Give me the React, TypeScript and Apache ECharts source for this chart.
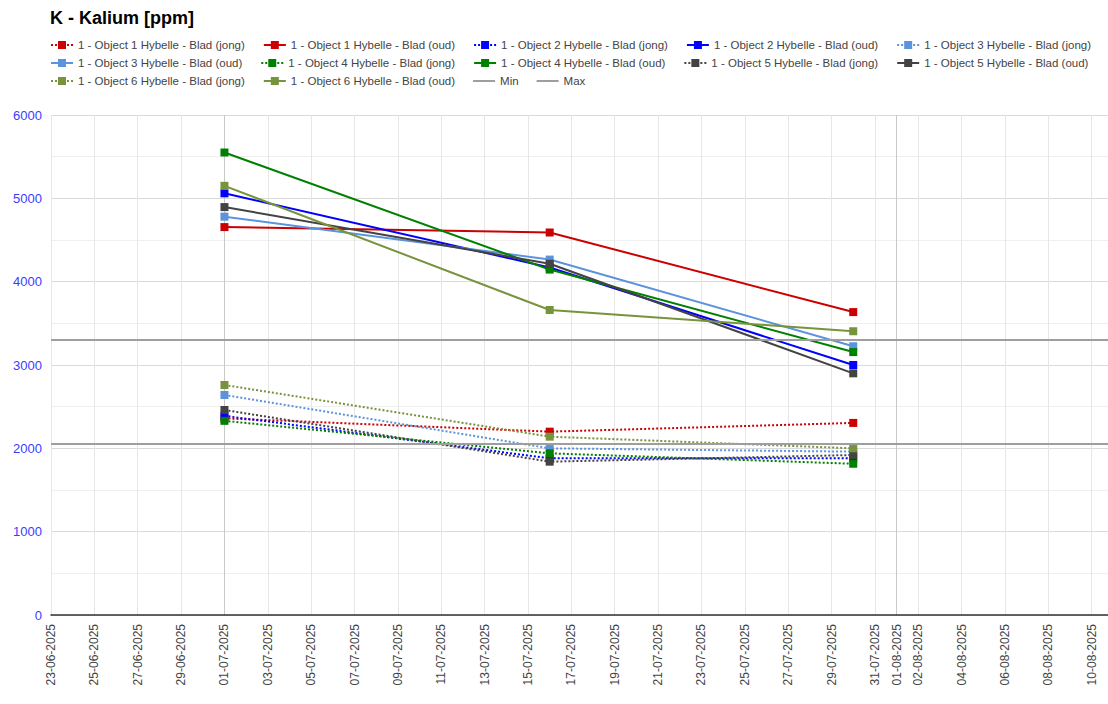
import React, { useEffect, useRef } from "react";
import * as echarts from "echarts";

const TITLE = "K - Kalium [ppm]";
const AXIS_START = "23-06-2025";
const AXIS_END_DAYS = 48.75;
const X_TICK_LABELS = [
  "23-06-2025", "25-06-2025", "27-06-2025", "29-06-2025", "01-07-2025",
  "03-07-2025", "05-07-2025", "07-07-2025", "09-07-2025", "11-07-2025",
  "13-07-2025", "15-07-2025", "17-07-2025", "19-07-2025", "21-07-2025",
  "23-07-2025", "25-07-2025", "27-07-2025", "29-07-2025", "31-07-2025",
  "01-08-2025", "02-08-2025", "04-08-2025", "06-08-2025", "08-08-2025",
  "10-08-2025",
];
const MONTH_LINES = ["01-07-2025", "01-08-2025"];
const SAMPLE_DATES = ["01-07-2025", "16-07-2025", "30-07-2025"];

const SERIES_NAMES = [
  "1 - Object 1 Hybelle - Blad (jong)",
  "1 - Object 1 Hybelle - Blad (oud)",
  "1 - Object 2 Hybelle - Blad (jong)",
  "1 - Object 2 Hybelle - Blad (oud)",
  "1 - Object 3 Hybelle - Blad (jong)",
  "1 - Object 3 Hybelle - Blad (oud)",
  "1 - Object 4 Hybelle - Blad (jong)",
  "1 - Object 4 Hybelle - Blad (oud)",
  "1 - Object 5 Hybelle - Blad (jong)",
  "1 - Object 5 Hybelle - Blad (oud)",
  "1 - Object 6 Hybelle - Blad (jong)",
  "1 - Object 6 Hybelle - Blad (oud)",
];
const SERIES_COLORS = [
  "#cc0000", "#cc0000",
  "#0000ff", "#0000ff",
  "#5b93dc", "#5b93dc",
  "#008000", "#008000",
  "#434343", "#434343",
  "#77933c", "#77933c",
];
const SERIES_DOTTED = [true, false, true, false, true, false, true, false, true, false, true, false];

const obj1Jong = [2360, 2200, 2305];
const obj1Oud = [4655, 4590, 3635];
const obj2Jong = [2390, 1880, 1880];
const obj2Oud = [5060, 4170, 3000];
const obj3Jong = [2640, 2000, 1960];
const obj3Oud = [4780, 4265, 3225];
const obj4Jong = [2330, 1940, 1815];
const obj4Oud = [5550, 4145, 3155];
const obj5Jong = [2460, 1840, 1920];
const obj5Oud = [4895, 4215, 2900];
const obj6Jong = [2760, 2140, 2000];
const obj6Oud = [5150, 3660, 3405];
const SERIES_VALUES = [
  obj1Jong, obj1Oud, obj2Jong, obj2Oud, obj3Jong, obj3Oud,
  obj4Jong, obj4Oud, obj5Jong, obj5Oud, obj6Jong, obj6Oud,
];

const LIMIT_NAMES = ["Min", "Max"];
const LIMIT_VALUES = [2050, 3300];
const LIMIT_COLOR = "#9e9e9e";

const Y_MIN = 0;
const Y_MAX = 6000;
const Y_INTERVAL = 1000;

const DAY = 86400000;
function parseDate(s: string): number {
  const [d, m, y] = s.split("-").map(Number);
  return Date.UTC(y, m - 1, d);
}
const T0 = parseDate(AXIS_START);
function dayOffset(s: string): number {
  return (parseDate(s) - T0) / DAY;
}

export default function App() {
  const ref = useRef<HTMLDivElement>(null);

  useEffect(() => {
    if (!ref.current) return;
    const chart = echarts.init(ref.current, undefined, { renderer: "svg" });

    const tickOffsets = X_TICK_LABELS.map(dayOffset);
    const labelByOffset: Record<string, string> = {};
    X_TICK_LABELS.forEach((l, i) => {
      labelByOffset[String(Math.round(tickOffsets[i]))] = l;
    });
    const monthOffsets = MONTH_LINES.map(dayOffset);
    const sampleOffsets = SAMPLE_DATES.map(dayOffset);

    const font = "'Liberation Sans', Arial, sans-serif";

    const dataSeries = SERIES_NAMES.map((name, i) => ({
      name,
      type: "line",
      xAxisIndex: 0,
      data: sampleOffsets.map((x, j) => [x, SERIES_VALUES[i][j]]),
      symbol: "rect",
      symbolSize: 8,
      showSymbol: true,
      color: SERIES_COLORS[i],
      itemStyle: { color: SERIES_COLORS[i] },
      lineStyle: {
        color: SERIES_COLORS[i],
        width: 2,
        type: SERIES_DOTTED[i] ? [2, 2] : "solid",
      },
      emphasis: { disabled: true },
    }));

    const limitSeries = LIMIT_NAMES.map((name, i) => ({
      name,
      type: "line",
      xAxisIndex: 0,
      data: [],
      symbol: "none",
      color: LIMIT_COLOR,
      lineStyle: { color: LIMIT_COLOR, width: 2 },
      markLine: {
        silent: true,
        symbol: ["none", "none"],
        label: { show: false },
        lineStyle: { color: LIMIT_COLOR, width: 2, type: "solid" },
        emphasis: { disabled: true },
        data: [{ yAxis: LIMIT_VALUES[i] }],
      },
    }));

    const legendCommon = {
      itemWidth: 22,
      itemHeight: 10,
      itemGap: 18,
      padding: 0,
      selectedMode: false,
      textStyle: { fontSize: 11.5, color: "#444", fontFamily: font },
    };
    const lineIcon = "path://M0,0H22V2H0Z";
    const row1 = SERIES_NAMES.slice(0, 5);
    const row2 = SERIES_NAMES.slice(5, 10);
    const row3: any[] = [
      ...SERIES_NAMES.slice(10, 12),
      ...LIMIT_NAMES.map((n) => ({ name: n, icon: lineIcon })),
    ];

    chart.setOption({
      animation: false,
      textStyle: { fontFamily: font },
      title: {
        text: TITLE,
        left: 50,
        top: 9,
        padding: 0,
        textStyle: { fontSize: 18, fontWeight: "bold", color: "#000", fontFamily: font },
      },
      legend: [
        { ...legendCommon, data: row1, left: 50, top: 39 },
        { ...legendCommon, data: row2, left: 50, top: 57 },
        { ...legendCommon, data: row3, left: 50, top: 75 },
      ],
      grid: { left: 51, right: 0, top: 115, bottom: 89, containLabel: false },
      xAxis: [
        {
          type: "value",
          min: 0,
          max: AXIS_END_DAYS,
          axisLine: { show: true, onZero: false, lineStyle: { color: "#333", width: 1.5 } },
          axisTick: { show: false, customValues: tickOffsets },
          axisLabel: {
            customValues: tickOffsets,
            rotate: 90,
            margin: 9,
            fontSize: 12,
            color: "#444",
            fontFamily: font,
            formatter: (v: number) => labelByOffset[String(Math.round(v))] || "",
          },
          splitLine: { show: true, lineStyle: { color: "#e6e6e6", width: 1 } },
        },
        {
          type: "value",
          min: 0,
          max: AXIS_END_DAYS,
          position: "bottom",
          axisLine: { show: false },
          axisTick: { show: false, customValues: monthOffsets },
          axisLabel: { show: false },
          splitLine: { show: true, lineStyle: { color: "#c8c8c8", width: 1 } },
        },
      ],
      yAxis: {
        type: "value",
        min: Y_MIN,
        max: Y_MAX,
        interval: Y_INTERVAL,
        axisLine: { show: false },
        axisTick: { show: false },
        axisLabel: {
          fontSize: 13,
          color: "#3c3cff",
          margin: 9,
          fontFamily: font,
          formatter: (v: number) => String(v),
        },
        splitLine: { show: true, lineStyle: { color: "#dadada", width: 1 } },
        minorTick: { show: false, splitNumber: 2 },
        minorSplitLine: { show: true, lineStyle: { color: "#efefef", width: 1 } },
      },
      series: [...dataSeries, ...limitSeries],
    });

    return () => chart.dispose();
  }, []);

  return (
    <div
      ref={ref}
      style={{ position: "absolute", left: 0, top: 0, width: 1108, height: 704, background: "#fff" }}
    />
  );
}
